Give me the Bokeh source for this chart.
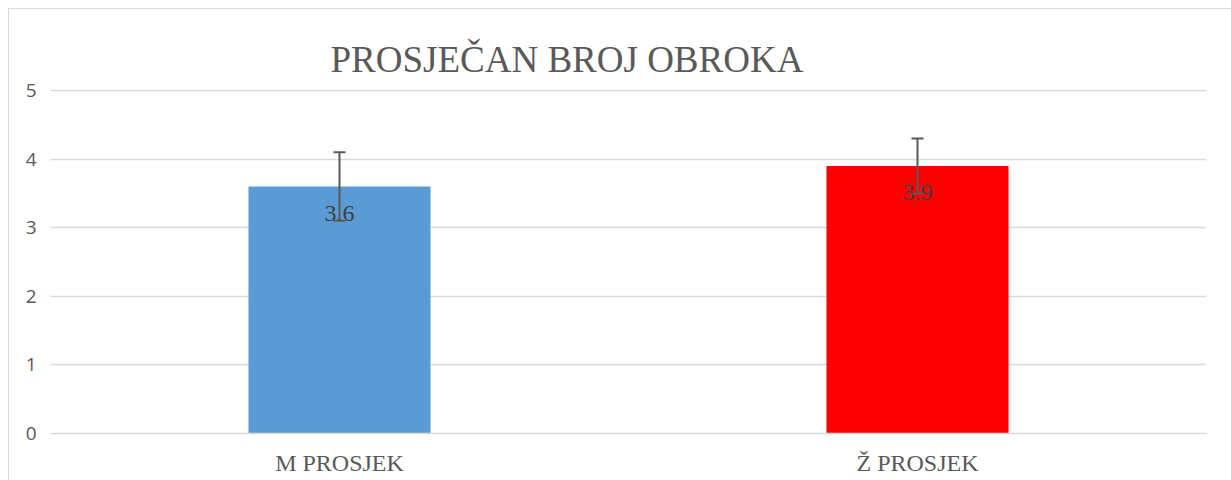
from bokeh.plotting import figure
from bokeh.models import ColumnDataSource, Range1d, FactorRange, Whisker
from bokeh.core.properties import value
from bokeh.embed import file_html
from bokeh.resources import INLINE

categories = ["M PROSJEK", "Ž PROSJEK"]
means = [3.6, 3.9]
errors = [0.5, 0.4]
labels = ["3.6", "3.9"]
colors = ["#5b9bd5", "#ff0000"]
title_text = "PROSJEČAN BROJ OBROKA"

src = ColumnDataSource(dict(
    cat=categories,
    mean=means,
    upper=[m + e for m, e in zip(means, errors)],
    lower=[m - e for m, e in zip(means, errors)],
    label=labels,
    color=colors,
))

p = figure(
    width=1223, height=472,
    x_range=FactorRange(*categories, range_padding=0),
    y_range=Range1d(0, 5.015),
    output_backend="svg", toolbar_location=None,
    min_border_left=41, min_border_right=26, min_border_top=80, min_border_bottom=48,
)
p.styles = {"margin-left": "8px", "margin-top": "8px",
            "border-left": "1px solid #d9d9d9", "border-top": "1px solid #d9d9d9"}

p.title.text = title_text
p.title.text_font = "Liberation Serif"
p.title.text_font_size = "37px"
p.title.text_font_style = "normal"
p.title.text_color = "#595959"
p.title.align = "left"
p.title.offset = 280
p.title.standoff = 19

p.outline_line_color = None
p.background_fill_color = "white"
p.border_fill_color = "white"

p.vbar(x="cat", top="mean", width=0.315, color="color", source=src, line_color=None)

p.text(x="cat", y="mean", text="label", source=src,
       text_font=value("Liberation Serif"), text_font_size="24px",
       text_color="#404040", text_align="center", text_baseline="middle",
       y_offset=27)

w = Whisker(base="cat", upper="upper", lower="lower", source=src,
            line_color="#595959", line_width=2, level="overlay")
w.upper_head.size = 12
w.lower_head.size = 12
w.upper_head.line_color = "#595959"
w.lower_head.line_color = "#595959"
w.upper_head.line_width = 2
w.lower_head.line_width = 2
p.add_layout(w)

p.xgrid.grid_line_color = None
p.ygrid.grid_line_color = "#d9d9d9"
p.ygrid.grid_line_width = 1.5
p.yaxis.ticker = [0, 1, 2, 3, 4, 5]

p.yaxis.axis_line_color = None
p.yaxis.major_tick_line_color = None
p.yaxis.minor_tick_line_color = None
p.yaxis.major_label_text_font = "Open Sans"
p.yaxis.major_label_text_font_size = "19px"
p.yaxis.major_label_text_color = "#595959"
p.yaxis.major_label_standoff = 8

p.xaxis.axis_line_color = "#d9d9d9"
p.xaxis.axis_line_width = 1.5
p.xaxis.major_tick_line_color = None
p.xaxis.minor_tick_line_color = None
p.xaxis.major_label_text_font = "Liberation Serif"
p.xaxis.major_label_text_font_size = "24px"
p.xaxis.major_label_text_color = "#595959"
p.xaxis.major_label_standoff = 10

open("out.html", "w").write(file_html(p, INLINE))
